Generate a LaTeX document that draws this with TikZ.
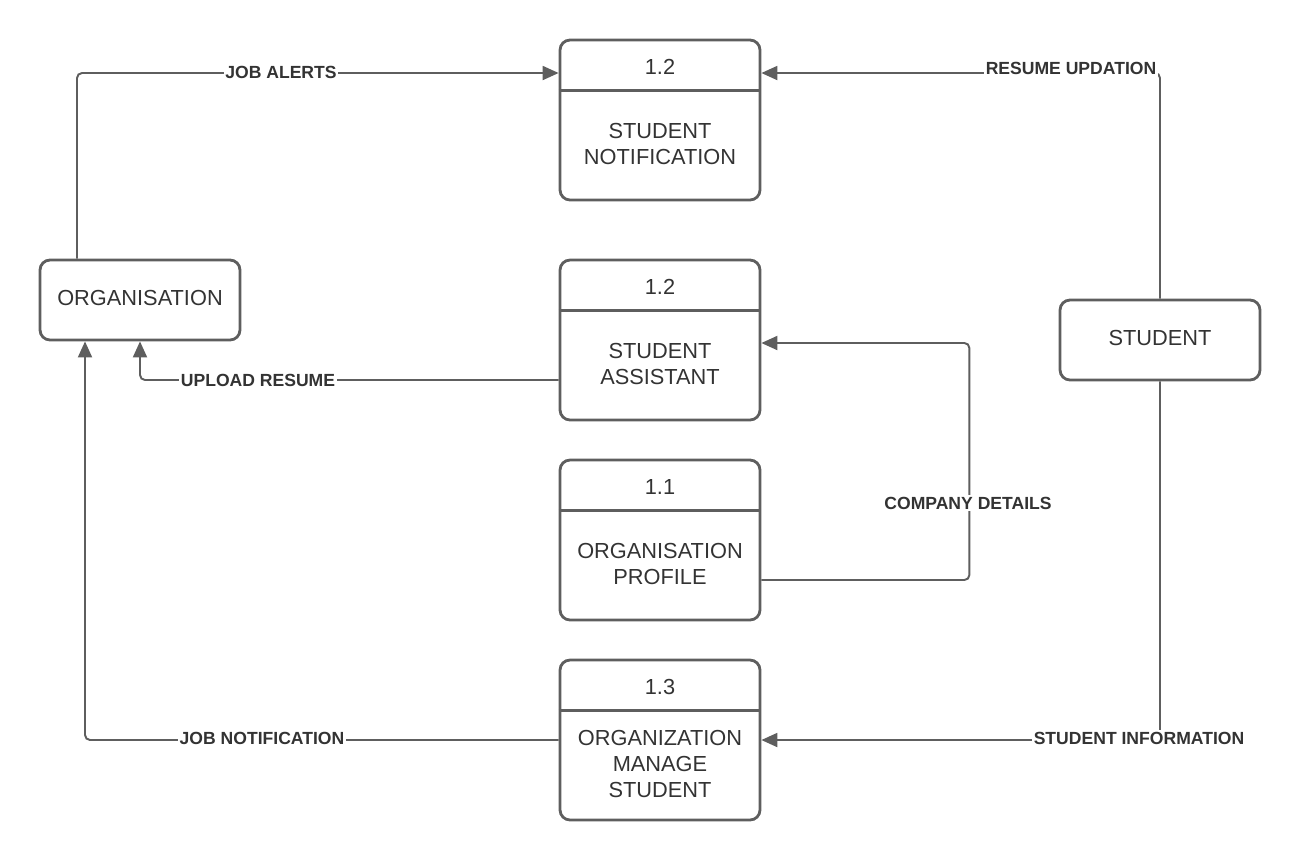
\documentclass[tikz,border=0pt]{standalone}
\usepackage{fontspec}
\setmainfont{Liberation Sans}
\usetikzlibrary{arrows.meta}
\definecolor{edge}{HTML}{5E5E5E}
\definecolor{ink}{HTML}{333333}
\begin{document}
\begin{tikzpicture}[x=0.02cm,y=-0.02cm,
  boxtext/.style={font=\fontsize{12.4}{14.7}\selectfont, text=ink, align=center},
  proc/.style={draw=edge, line width=1.6pt, rounded corners=0.2cm, minimum width=4cm, minimum height=3.2cm, inner sep=0pt},
  ent/.style={draw=edge, line width=1.6pt, rounded corners=0.2cm, minimum width=4cm, minimum height=1.6cm},
  divider/.style={draw=edge, line width=1.6pt},
  flow/.style={draw=edge, line width=1.1pt, rounded corners=0.1cm, -{Triangle[length=0.32cm,width=0.28cm]}},
  lbl/.style={font=\fontsize{10}{12}\selectfont\bfseries, text=ink, fill=white, inner sep=1pt}
]
\useasboundingbox (0,0) rectangle (1300,860);

% processes
\foreach \n/\y in {n1/120, n2/340, n3/540, n4/740} {
  \node[proc] (\n) at (660,\y) {};
  \draw[divider] ([yshift=-1.04cm]\n.north west) -- ([yshift=-1.04cm]\n.north east);
}
\node[boxtext] (n1num) at ([yshift=-0.56cm]n1.north) {1.2};
\node[boxtext] (n1txt) at ([yshift=-0.48cm]n1.center) {STUDENT\\NOTIFICATION};
\node[boxtext] (n2num) at ([yshift=-0.56cm]n2.north) {1.2};
\node[boxtext] (n2txt) at ([yshift=-0.48cm]n2.center) {STUDENT\\ASSISTANT};
\node[boxtext] (n3num) at ([yshift=-0.56cm]n3.north) {1.1};
\node[boxtext] (n3txt) at ([yshift=-0.48cm]n3.center) {ORGANISATION\\PROFILE};
\node[boxtext] (n4num) at ([yshift=-0.56cm]n4.north) {1.3};
\node[boxtext] (n4txt) at ([yshift=-0.48cm]n4.center) {ORGANIZATION\\MANAGE\\STUDENT};

% entities
\node[ent] (org) at (140,300) {};
\node[boxtext] (orgtxt) at ([yshift=0.04cm]org.center) {ORGANISATION};
\node[ent] (stu) at (1160,340) {};
\node[boxtext] (stutxt) at ([yshift=0.04cm]stu.center) {STUDENT};

% flows
\draw[flow] ([xshift=-1.26cm]org.north) |- ([yshift=0.94cm]n1.west);
\draw[flow] (stu.north) |- ([yshift=0.94cm]n1.east);
\draw[flow] ([yshift=-0.8cm]n2.west) -| (org.south);
\draw[flow] (n4.west) -| ([xshift=-1.1cm]org.south);
\draw[flow] ([yshift=-0.8cm]n3.east) -- ++(208,0) |- ([yshift=-0.06cm]n2.east);
\draw[flow] (stu.south) |- (n4.east);

% labels
\node[lbl] (l1) at (281,72) {JOB ALERTS};
\node[lbl] (l2) at (1071,68) {RESUME UPDATION};
\node[lbl] (l3) at (258,380) {UPLOAD RESUME};
\node[lbl] (l4) at (968,503) {COMPANY DETAILS};
\node[lbl] (l5) at (262,738) {JOB NOTIFICATION};
\node[lbl] (l6) at (1139,738) {STUDENT INFORMATION};
\end{tikzpicture}
\end{document}
